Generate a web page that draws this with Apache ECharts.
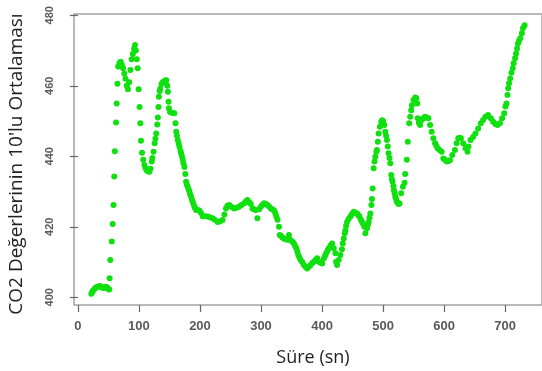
<!DOCTYPE html>
<html>
<head>
<meta charset="utf-8">
<script src="https://cdn.jsdelivr.net/npm/echarts@6/dist/echarts.min.js"></script>
<style>
html,body{margin:0;padding:0;background:#fff;}
#chart{width:542px;height:371px;}
</style>
</head>
<body>
<div id="chart"></div>
<script>
// Time (seconds)
const sure = [
22,23,24,26,28,30,32,34,36,38,40,42,44,46,48,50,51.5,
52,53,55.5,57,58.3,59.5,60.5,62.5,63.5,64.8,
66,68,70,72,74,76,78,80,82,84,86,88,90,92,93.5,95,96.5,98,99.5,101,102.2,103.3,105,107,109,111,113,115,117,119,121,122,124,125.7,127,128.4,130,131,132,132.7,134,135,137,139,141,143,145,146.5,147.5,148.5,149,151,153,155,158,159.9,161,162.3,163.6,165,166.4,168,169,170.5,171.8,173,174.5,176,177.3,178.5,180,181.5,182.7,184,185.5,187,188,189.5,190.9,192.3,193.6,196,199,201.5,204.4,208,212.6,216,220.7,224,228.9,233,237,240,242.6,245,248,252,256,260,264,268,272.4,275,277.8,280.5,283.3,286,288.5,291.5,294.1,297,299.7,302,305,308,310.4,313,316,318.5,321.4,323.5,325.2,327,329.5,330.6,332.5,335,337.7,340.5,343.1,345.8,347.5,350,352,354,356,357.7,359.5,361,363,364.9,367.5,370.3,373,375.7,378.5,381.2,384,386.6,389.3,392,394.8,397.5,400.2,403,405,406.7,409,411,413.8,416.5,419.2,422,423,424.6,427.3,430,432.7,433.9,435.6,437.2,438.3,439.5,441,443.5,446.5,449,451.9,454.5,457.4,459.5,461.2,463.5,465.6,467.5,469.4,471,473.7,475,476.3,477.8,479.1,480.8,481.7,482.9,484.5,486,487.3,489,489.9,491.5,492.7,494.8,497.1,498.5,500,502,503.6,505,506.3,507.7,509,510.5,511.8,513.4,514.5,515.5,517,517.8,519,520,521.5,522.6,524,525.3,527,
529.7,532.4,535.2,536.2,538.9,540.5,542.8,544.4,546.1,547.2,549.8,552.7,554.5,556,556.8,558.5,560.7,563.3,566,568.8,571.5,574.2,577,579.6,582.4,585.2,587.3,589.4,592.5,596,598.7,601.5,604.1,607,609.6,613.4,617.8,620.4,623.2,625.4,627.5,631.3,635.1,638.4,640,643.4,647.6,651.4,655.8,660.1,663.9,667.7,672,676.5,680.3,684,687.4,691.4,695.1,698.4,700.5,702.2,703.8,705,706.4,708.3,710.3,712.4,714,716.3,717.9,719.5,721,722.8,724.8,727.4,729.2,731.9
];
// CO2 10-point moving average
const co2 = [
401.0,401.3,401.7,402.1,402.6,402.8,403.0,403.1,403.2,403.0,402.8,402.6,402.8,403.0,402.8,402.3,402.2,
405.4,410.6,415.8,420.8,426.2,434.3,441.4,449.6,455.0,460.6,
465.5,466.5,466.8,466.0,465.0,463.5,462.0,460.0,459.0,461.0,464.5,467.5,469.0,470.5,471.6,470.0,467.5,465.0,459.0,454.0,449.4,444.4,441.0,439.0,437.5,436.6,436.0,435.7,435.6,436.5,438.5,439.5,441.3,443.7,445.0,446.5,449.0,451.0,454.0,456.9,458.5,459.2,460.5,461.0,461.2,461.5,461.6,460.0,458.3,455.5,453.6,452.6,452.4,452.3,452.2,449.4,447.0,445.8,444.6,443.6,442.7,441.6,440.9,440.0,439.0,438.0,437.0,435.0,432.8,432.0,431.4,430.6,430.0,429.2,428.5,427.7,427.1,426.4,425.7,425.2,424.8,424.8,424.6,424.0,423.0,423.0,422.9,422.7,422.4,422.0,421.4,421.6,421.9,423.5,425.2,426.0,426.2,425.6,425.2,425.4,425.7,426.2,426.7,427.2,427.6,427.0,426.5,425.2,425.0,424.8,422.4,425.0,425.7,426.2,426.7,426.5,426.2,425.8,425.2,425.0,424.6,423.8,422.9,422.0,420.0,417.7,417.5,417.0,416.7,416.5,416.3,417.7,416.3,416.0,415.7,415.3,414.5,413.9,413.0,412.0,411.3,410.6,410.0,409.2,408.7,408.2,408.7,409.2,409.7,410.1,410.6,411.1,410.1,409.8,409.6,411.0,411.8,412.5,413.2,413.9,414.6,415.3,413.9,412.5,410.1,409.2,410.6,412.0,413.6,415.3,416.7,418.2,419.0,420.3,421.4,422.2,422.9,423.6,424.3,424.0,423.8,423.3,422.9,422.1,421.4,420.7,420.0,418.2,419.6,420.5,421.4,422.6,423.8,426.2,427.9,430.9,436.6,438.5,439.9,441.3,441.8,444.1,446.5,448.4,449.8,450.2,450.0,448.9,447.0,445.8,444.6,442.8,440.9,439.5,438.0,434.7,433.5,432.8,431.5,430.4,429.5,428.5,427.8,427.1,426.8,426.5,426.6,
429.5,431.4,432.5,435.0,439.0,444.1,449.4,451.2,453.1,454.5,456.0,456.7,456.5,455.0,450.8,449.5,448.9,450.3,450.8,451.2,451.0,450.8,448.9,447.0,445.1,443.7,443.0,442.3,441.8,441.3,439.4,439.0,438.5,438.7,438.9,440.4,441.8,443.7,445.1,445.3,445.1,443.7,442.3,441.3,442.8,444.6,445.5,446.5,447.9,449.4,450.3,451.2,451.7,450.8,449.8,449.2,448.9,449.4,450.8,452.2,454.1,455.0,457.4,459.3,460.7,462.1,463.7,465.0,466.4,467.8,469.2,470.6,472.0,472.8,473.5,474.9,476.3,477.2
];
const xTicks = [0,100,200,300,400,500,600,700];
const yTicks = [400,420,440,460,480];

const points = sure.map((x,i)=>[x, co2[i]]);

const chart = echarts.init(document.getElementById('chart'), null, {renderer:'canvas'});
chart.setOption({
  animation:false,
  backgroundColor:'#ffffff',
  grid:{left:74, right:-2, top:14, bottom:66, show:true, borderColor:'#a3a3a3', borderWidth:1.5, containLabel:false},
  xAxis:{
    type:'value', min:-6.4, max:760.4,
    axisLine:{show:false},
    splitLine:{show:false},
    axisTick:{show:true, length:7, customValues:xTicks, lineStyle:{color:'#666', width:1.2}},
    axisLabel:{customValues:xTicks, margin:15, color:'#5a5a5a', fontSize:13, fontWeight:'bold', fontFamily:'Liberation Sans'}
  },
  yAxis:{
    type:'value', min:397.82, max:480.37,
    axisLine:{show:false},
    splitLine:{show:false},
    axisTick:{show:true, length:8, customValues:yTicks, lineStyle:{color:'#666', width:1.2}},
    axisLabel:{customValues:yTicks, rotate:90, margin:19, color:'#5a5a5a', fontSize:11, fontWeight:'bold', fontFamily:'Liberation Sans'}
  },
  graphic:[
    {type:'text', x:313, y:358, silent:true,
     style:{text:'Süre (sn)', fill:'#222', font:'18px "Open Sans"', align:'center', verticalAlign:'middle'}},
    {type:'text', x:17, y:164, rotation:Math.PI/2, silent:true,
     style:{text:"CO2 Değerlerinin 10'lu Ortalaması", fill:'#222', font:'19px "Open Sans"', align:'center', verticalAlign:'middle'}}
  ],
  series:[{
    type:'scatter',
    data:points,
    symbol:'circle',
    symbolSize:6,
    itemStyle:{color:'#10e010', opacity:1},
    silent:true
  }]
});
</script>
</body>
</html>
